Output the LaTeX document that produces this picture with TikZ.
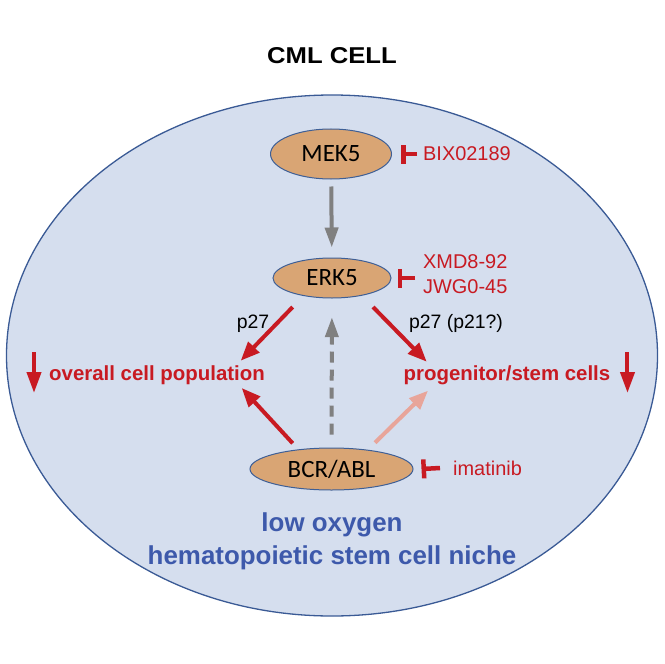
\documentclass[tikz,border=0pt]{standalone}
\usepackage{fontspec}
\setmainfont{Liberation Sans}
\newfontfamily\calibri{Carlito}
\newfontfamily\titlefont[FakeStretch=1.12]{Liberation Sans}
\usetikzlibrary{arrows.meta,shapes.geometric,calc}
\definecolor{cellfill}{HTML}{D5DEEE}
\definecolor{cellline}{HTML}{3A5A95}
\definecolor{protfill}{HTML}{D9A574}
\definecolor{protline}{HTML}{3E5F96}
\definecolor{drugred}{HTML}{C81A22}
\definecolor{pinkred}{HTML}{E8A59A}
\definecolor{arrgray}{HTML}{808080}
\definecolor{nicheblue}{HTML}{3D59AB}
\begin{document}
\begin{tikzpicture}[x=1bp,y=-1bp,
  prot/.style={ellipse, draw=protline, line width=1bp, fill=protfill, inner sep=0pt,
    font=\calibri\fontsize{25}{30}\selectfont},
  drug/.style={text=drugred, inner sep=0pt, anchor=west, font=\fontsize{20}{25}\selectfont},
  effect/.style={text=drugred, inner sep=0pt, anchor=base, font=\bfseries\fontsize{20.5}{25}\selectfont},
  lbl/.style={inner sep=0pt, anchor=base, font=\fontsize{19.5}{24}\selectfont},
  niche/.style={text=nicheblue, inner sep=0pt, anchor=base, font=\bfseries\fontsize{26}{32}\selectfont},
  redarr/.style={-{Triangle[length=19bp,width=15bp]}, line width=4bp, draw=drugred},
  pinkarr/.style={redarr, draw=pinkred},
  grayarr/.style={-{Triangle[length=20bp,width=13bp]}, line width=4bp, draw=arrgray},
  decarr/.style={-{Triangle[length=21bp,width=14bp]}, line width=4bp, draw=drugred},
  inh/.style={-{Bar[width=19bp]}, line width=4.5bp, draw=drugred}]
\useasboundingbox (0,0) rectangle (664,664);
% the cell
\draw[draw=cellline, line width=1.3bp, fill=cellfill] (332,355.5) ellipse (325.5 and 260.5);
\node (title) at (332,64) [anchor=base, inner sep=0pt, font=\titlefont\bfseries\fontsize{23}{28}\selectfont] {CML CELL};
% kinases
\node (mek5) at (331,154) [prot, minimum width=121bp, minimum height=50bp] {MEK5};
\node (erk5) at (332,278) [prot, minimum width=118bp, minimum height=40bp] {ERK5};
\node (bcr) at (331.5,469) [prot, minimum width=163bp, minimum height=42bp] {BCR/ABL};
% inhibitors
\node (bix) at (423,154) [drug] {BIX02189};
\node (xmd) at (423,274) [drug, align=left] {XMD8-92\\JWG0-45};
\node (ima) at (453,468) [drug] {imatinib};
\draw[inh] ($(bix.west)+(-6,0)$) -- ($(mek5.east)+(9,0)$);
\draw[inh] ($(xmd.west |- erk5)+(-8,0)$) -- ($(erk5.east)+(6,0)$);
\draw[inh] ($(ima.west)+(-13,0)$) -- ($(bcr.east)+(8,0)$);
% effects
\node (pop) at (157,380) [effect] {overall cell population};
\node (prog) at (507,380) [effect] {progenitor/stem cells};
\node (p27a) at (253,328) [lbl] {p27};
\node (p27b) at (456,328) [lbl] {p27 (p21?)};
\draw[decarr] ($(pop.base west)+(-15,-28)$) -- ($(pop.base west)+(-15,13)$);
\draw[decarr] ($(prog.base east)+(17,-28)$) -- ($(prog.base east)+(17,13)$);
% signalling
\draw[grayarr, shorten <=7bp, shorten >=10bp] (mek5) -- (erk5);
\draw[grayarr, dash pattern=on 11bp off 7bp, shorten <=13bp, shorten >=18.7bp] (bcr) -- (erk5);
\draw[redarr] ($(erk5)+(-39.3,29)$) -- ($(pop.base)+(83.7,-19.3)$);
\draw[redarr] ($(erk5)+(41,29)$) -- ($(prog.base)+(-80.3,-18.3)$);
\draw[redarr] ($(bcr)+(-38.8,-25.7)$) -- ($(pop.base)+(84.7,8)$);
\draw[pinkarr] ($(bcr)+(43.5,-26.3)$) -- ($(prog.base)+(-79,10.7)$);
% niche
\node (niche1) at (332,531.7) [niche] {low oxygen};
\node (niche2) at (332,564) [niche] {hematopoietic stem cell niche};
\end{tikzpicture}
\end{document}
